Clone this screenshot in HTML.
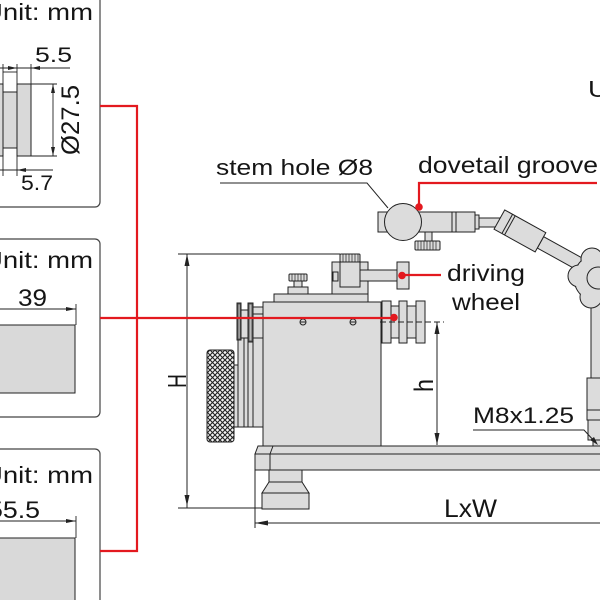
<!DOCTYPE html>
<html><head><meta charset="utf-8"><style>
html,body{margin:0;padding:0;background:#fff;width:600px;height:600px;overflow:hidden;}
svg{display:block;overflow:hidden;}
text{font-family:"Liberation Sans",Arial,sans-serif;fill:#151515;}
</style></head><body>
<svg width="600" height="600" viewBox="0 0 600 600" xmlns="http://www.w3.org/2000/svg">
<defs>
<pattern id="kn" width="5" height="5" patternUnits="userSpaceOnUse">
<rect width="5" height="5" fill="#f4f4f4"/>
<path d="M0,0L5,5M5,0L0,5" stroke="#222" stroke-width="1.1"/>
</pattern>
<clipPath id="cp"><rect x="0" y="0" width="600" height="600"/></clipPath>
</defs>
<g clip-path="url(#cp)">
<rect width="600" height="600" fill="#fff"/>

<!-- ===== Boxes ===== -->
<g fill="none" stroke="#444" stroke-width="1.2">
<rect x="-10" y="-10" width="110" height="217" rx="5"/>
<rect x="-10" y="239" width="110" height="178" rx="5"/>
<path d="M-10,449H95A5,5 0 0 1 100,454V600"/>
</g>
<text x="-17" y="20" font-size="23" textLength="110" lengthAdjust="spacingAndGlyphs">Unit: mm</text>
<g stroke="#222" stroke-width="1" fill="#d9d9d9">
<rect x="-5" y="84" width="8" height="72"/>
<rect x="3" y="92" width="14" height="56"/>
<rect x="17" y="84" width="14" height="72"/>
</g>
<g stroke="#222" stroke-width="0.9" fill="none">
<line x1="3" y1="64" x2="3" y2="176"/>
<line x1="17" y1="64" x2="17" y2="176"/>
<line x1="31" y1="64" x2="31" y2="84"/>
<line x1="-5" y1="68" x2="70" y2="68"/>
<line x1="3" y1="72" x2="17" y2="72"/>
<line x1="-5" y1="170" x2="53" y2="170"/>
<line x1="31" y1="84" x2="57" y2="84"/>
<line x1="31" y1="156" x2="57" y2="156"/>
<line x1="53" y1="84" x2="53" y2="156"/>
</g>
<g fill="#222">
<polygon points="31,68 40,66 40,70"/>
<polygon points="17,68 8,66 8,70"/>
<polygon points="17,170 26,168 26,172"/>
<polygon points="53,84 51,93 55,93"/>
<polygon points="53,156 51,147 55,147"/>
</g>
<text x="35" y="62" font-size="21" textLength="37" lengthAdjust="spacingAndGlyphs">5.5</text>
<text x="21" y="190" font-size="21" textLength="32" lengthAdjust="spacingAndGlyphs">5.7</text>
<text transform="translate(79,155) rotate(-90)" font-size="25" textLength="70" lengthAdjust="spacingAndGlyphs">Ø27.5</text>

<!-- Box 2 -->
<text x="-17" y="268" font-size="23" textLength="110" lengthAdjust="spacingAndGlyphs">Unit: mm</text>
<text x="18" y="306" font-size="24" textLength="29" lengthAdjust="spacingAndGlyphs">39</text>
<g stroke="#222" stroke-width="0.9">
<line x1="-5" y1="309" x2="76" y2="309"/>
<line x1="76" y1="304" x2="76" y2="325"/>
</g>
<polygon points="76,309 66,307 66,311" fill="#222"/>
<rect x="-5" y="325" width="80" height="68" fill="#d9d9d9" stroke="#222" stroke-width="1"/>

<!-- Box 3 -->
<text x="-17" y="483" font-size="23" textLength="110" lengthAdjust="spacingAndGlyphs">Unit: mm</text>
<text x="-12" y="518" font-size="24" textLength="52" lengthAdjust="spacingAndGlyphs">55.5</text>
<g stroke="#222" stroke-width="0.9">
<line x1="-5" y1="521" x2="76" y2="521"/>
<line x1="76" y1="516" x2="76" y2="538"/>
</g>
<polygon points="76,521 66,519 66,523" fill="#222"/>
<rect x="-5" y="538" width="80" height="80" fill="#d9d9d9" stroke="#222" stroke-width="1"/>

<!-- ===== H dimension ===== -->
<g stroke="#222" stroke-width="1">
<line x1="178" y1="254" x2="340" y2="254"/>
<line x1="187" y1="254" x2="187" y2="508"/>
<line x1="178" y1="508" x2="262" y2="508"/>
</g>
<polygon points="187,254 184.5,266 189.5,266" fill="#222"/>
<polygon points="187,506 184.5,495 189.5,495" fill="#222"/>
<text transform="translate(186,388) rotate(-90)" font-size="26" textLength="14" lengthAdjust="spacingAndGlyphs">H</text>

<!-- ===== Base ===== -->
<g stroke="#222" stroke-width="1" fill="#dcdcdc">
<polygon points="258,446 605,446 605,454 255,454"/>
<rect x="255" y="454" width="350" height="16"/>
<rect x="269" y="470" width="33" height="12"/>
<polygon points="269,482 302,482 309,493 262,493"/>
<rect x="262" y="493" width="47" height="16"/>
<line x1="273" y1="446" x2="270" y2="454"/>
<line x1="270" y1="454" x2="270" y2="470"/>
</g>

<!-- ===== Left pulley & knurled wheel ===== -->
<g stroke="#222" stroke-width="1" fill="#dcdcdc">
<rect x="234" y="365" width="8" height="62"/>
<rect x="238" y="338" width="25" height="89"/>
<line x1="244" y1="338" x2="244" y2="427"/>
<line x1="248" y1="338" x2="248" y2="427"/>
<line x1="253" y1="338" x2="253" y2="427"/>
<rect x="241" y="310" width="7" height="28"/>
<rect x="253" y="307" width="10" height="31"/>
<line x1="253" y1="314" x2="263" y2="314"/>
<rect x="237" y="303" width="4" height="37" fill="#555"/>
<rect x="248" y="303" width="5" height="39" fill="#555"/>
<rect x="238.5" y="304.5" width="1.2" height="34" fill="#bbb" stroke="none"/>
<rect x="249.5" y="304.5" width="2" height="36" fill="#bbb" stroke="none"/>
<rect x="207" y="350" width="27" height="92" rx="3" fill="url(#kn)"/>
</g>

<!-- ===== Main body ===== -->
<g stroke="#222" stroke-width="1" fill="#dcdcdc">
<rect x="263" y="302" width="118" height="144"/>
<rect x="274" y="294" width="94" height="8"/>
<rect x="288" y="287" width="20" height="7"/>
<rect x="294" y="280" width="8" height="7"/>
<rect x="289" y="274" width="18" height="7" rx="1"/>
<path d="M292,274v7M295,274v7M298,274v7M301,274v7M304,274v7" stroke-width="0.7"/>
<rect x="332" y="262" width="36" height="32"/>
<rect x="340" y="262" width="20" height="25"/>
<rect x="340" y="254" width="20" height="8" rx="1"/>
<path d="M343,254v8M346,254v8M349,254v8M352,254v8M355,254v8M358,254v8" stroke-width="0.7"/>
<rect x="333" y="272" width="5" height="9"/>
<rect x="360" y="270" width="37" height="11"/>
<rect x="397" y="262" width="12" height="27"/>
</g>
<g stroke="#222" stroke-width="1" fill="#dcdcdc">
<circle cx="303" cy="322" r="3"/>
<circle cx="353" cy="322" r="3"/>
<line x1="300.5" y1="322" x2="305.5" y2="322"/>
<line x1="350.5" y1="322" x2="355.5" y2="322"/>
</g>

<!-- ===== Right pulley ===== -->
<g stroke="#222" stroke-width="1" fill="#dcdcdc">
<rect x="391" y="306" width="8" height="32"/>
<rect x="407" y="306" width="9" height="32"/>
<rect x="382" y="301" width="9" height="42"/>
<rect x="399" y="301" width="8" height="42"/>
<rect x="416" y="301" width="9" height="42"/>
</g>
<line x1="380" y1="322" x2="444" y2="322" stroke="#222" stroke-width="1" stroke-dasharray="6,3"/>

<!-- ===== h dimension ===== -->
<line x1="437" y1="322" x2="437" y2="445" stroke="#222" stroke-width="1"/>
<polygon points="437,322 434.5,334 439.5,334" fill="#222"/>
<polygon points="437,445 434.5,433 439.5,433" fill="#222"/>
<text transform="translate(433,392) rotate(-90)" font-size="27" textLength="13" lengthAdjust="spacingAndGlyphs">h</text>

<!-- ===== LxW ===== -->
<g stroke="#222" stroke-width="1">
<line x1="255" y1="470" x2="255" y2="528"/>
<line x1="255" y1="523" x2="600" y2="523"/>
</g>
<polygon points="255,523 268,520.5 268,525.5" fill="#222"/>
<text x="444" y="517" font-size="25" textLength="53" lengthAdjust="spacingAndGlyphs">LxW</text>

<!-- ===== Right column ===== -->
<g stroke="#222" stroke-width="1" fill="#dcdcdc">
<rect x="591" y="300" width="15" height="80"/>
<rect x="587" y="378" width="19" height="42"/>
<line x1="587" y1="410" x2="606" y2="410"/>
<rect x="588" y="420" width="18" height="20"/>
<rect x="593" y="440" width="12" height="6"/>
</g>

<!-- ===== Arm ===== -->
<g stroke="#222" stroke-width="1" fill="#dcdcdc">
<rect x="479" y="218" width="25" height="9"/>
<g transform="translate(502,221) rotate(29)">
<rect x="44" y="-6.5" width="55" height="13"/>
<rect x="-3" y="-11" width="47" height="22"/>
<line x1="6" y1="-11" x2="6" y2="11"/>
<line x1="9" y1="-11" x2="9" y2="11"/>
</g>
</g>
<!-- star knob -->
<g stroke="#222" stroke-width="1" fill="#dcdcdc">
<circle cx="598" cy="278" r="24"/>
<circle cx="579" cy="276" r="11"/>
<circle cx="592" cy="259" r="11"/>
<circle cx="616" cy="265" r="11"/>
<circle cx="613" cy="293" r="11"/>
<circle cx="591" cy="297" r="11"/>
<circle cx="598" cy="278" r="23.4" stroke="none"/>
<circle cx="598" cy="278" r="11"/>
</g>

<!-- ===== Stem hole clamp ===== -->
<g stroke="#222" stroke-width="1" fill="#dcdcdc">
<rect x="475" y="215" width="4" height="14"/>
<rect x="378" y="212" width="97" height="20"/>
<line x1="452" y1="212" x2="452" y2="232"/>
<line x1="456" y1="212" x2="456" y2="232"/>
<rect x="425" y="232" width="7" height="9"/>
<rect x="415" y="241" width="25" height="9" rx="1"/>
<path d="M418,241v9M421,241v9M424,241v9M427,241v9M430,241v9M433,241v9M436,241v9" stroke-width="0.7"/>
<circle cx="403" cy="222" r="18.5"/>
</g>

<!-- ===== Labels & leaders ===== -->
<text x="216" y="175" font-size="22" textLength="157" lengthAdjust="spacingAndGlyphs">stem hole Ø8</text>
<polyline points="220,183 367,183 388,208" fill="none" stroke="#222" stroke-width="1"/>

<text x="418" y="173" font-size="23" textLength="180" lengthAdjust="spacingAndGlyphs">dovetail groove</text>
<text x="447" y="281" font-size="23" textLength="78" lengthAdjust="spacingAndGlyphs">driving</text>
<text x="452" y="310" font-size="23" textLength="68" lengthAdjust="spacingAndGlyphs">wheel</text>
<text x="473" y="423" font-size="22" textLength="101" lengthAdjust="spacingAndGlyphs">M8x1.25</text>
<polyline points="473,430 584,430 596,443" fill="none" stroke="#222" stroke-width="1"/>
<polygon points="598,445 590,440 594,437" fill="#222"/>
<text x="588" y="97" font-size="23" textLength="110" lengthAdjust="spacingAndGlyphs">Unit: mm</text>

<!-- ===== Red connectors ===== -->
<g stroke="#e3191f" stroke-width="2.2" fill="none">
<path d="M100,106H137V551H100"/>
<path d="M100,318H394"/>
<path d="M402,275H441"/>
<path d="M597,183H419V207"/>
</g>
<g fill="#e3191f">
<circle cx="394" cy="317.5" r="3.8"/>
<circle cx="402" cy="275.5" r="3.8"/>
<circle cx="419" cy="207" r="3.8"/>
</g>
</g>
</svg>
</body></html>
